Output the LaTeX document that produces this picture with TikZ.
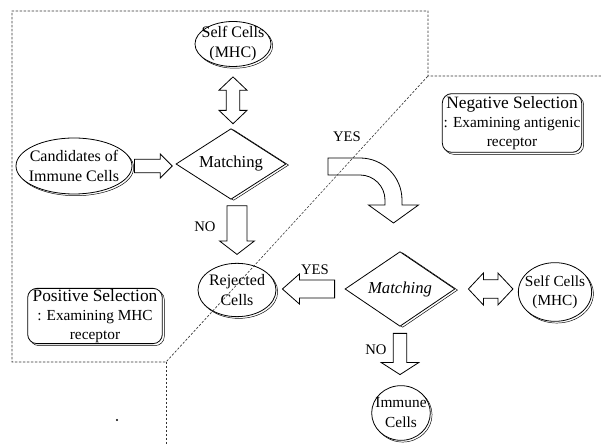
\documentclass[tikz,border=0pt]{standalone}
\usepackage{fontspec}
\setmainfont{Liberation Serif}
\usetikzlibrary{calc,shapes.geometric,shadows}

% fat block arrow from #1 to #2, gaps #3 and #4 at the two ends
\newcommand{\fatarrow}[4]{%
  \path let \p1=($(#2)-(#1)$) in \pgfextra{\pgfmathsetmacro\faang{atan2(\y1,\x1)}\pgfmathsetmacro\falen{veclen(\x1,\y1)}\global\let\faang\faang\global\let\falen\falen};
  \begin{scope}[shift={(#1)}, rotate=\faang]
    \draw[blockarrow] (#3,-\shw) -- (\falen pt-#4-\hdl,-\shw) -- (\falen pt-#4-\hdl,-\hdw) -- (\falen pt-#4,0pt)
      -- (\falen pt-#4-\hdl,\hdw) -- (\falen pt-#4-\hdl,\shw) -- (#3,\shw) -- cycle;
  \end{scope}}
% same with a head at both ends
\newcommand{\dblarrow}[4]{%
  \path let \p1=($(#2)-(#1)$) in \pgfextra{\pgfmathsetmacro\faang{atan2(\y1,\x1)}\pgfmathsetmacro\falen{veclen(\x1,\y1)}\global\let\faang\faang\global\let\falen\falen};
  \begin{scope}[shift={(#1)}, rotate=\faang]
    \draw[blockarrow] (#3,0pt) -- (#3+\hdl,-\hdw) -- (#3+\hdl,-\shw) -- (\falen pt-#4-\hdl,-\shw) -- (\falen pt-#4-\hdl,-\hdw)
      -- (\falen pt-#4,0pt) -- (\falen pt-#4-\hdl,\hdw) -- (\falen pt-#4-\hdl,\shw) -- (#3+\hdl,\shw) -- (#3+\hdl,\hdw) -- cycle;
  \end{scope}}

\tikzset{
  cell/.style={ellipse, draw, fill=white, line width=0.6pt, inner xsep=-6pt, inner ysep=-4pt, align=center,
    font=\fontsize{12}{15}\selectfont,
    copy shadow={shadow xshift=1.3pt, shadow yshift=-1.3pt, draw=black, fill=white, line width=0.35pt}},
  decide/.style={diamond, draw, fill=white, line width=0.6pt, aspect=1.5, inner sep=1pt,
    minimum width=82.5pt, font=\fontsize{12.5}{14}\selectfont,
    copy shadow={shadow xshift=2pt, shadow yshift=-0.8pt, draw=black, fill=white, line width=0.35pt}},
  selbox/.style={rectangle, rounded corners=7pt, draw, fill=white, line width=0.6pt, align=center, inner sep=1pt,
    font=\fontsize{11.5}{14}\selectfont,
    copy shadow={shadow xshift=1.5pt, shadow yshift=-1.5pt, draw=black, fill=white, line width=0.35pt}},
  blockarrow/.style={draw=black, fill=white, line width=0.6pt, line join=miter},
  borderline/.style={black!80, line width=0.45pt, dash pattern=on 1.8pt off 1.2pt},
  answer/.style={font=\fontsize{11}{12}\selectfont, inner sep=0pt},
}

\begin{document}
\begin{tikzpicture}[x=0.75pt, y=-0.75pt]
  \useasboundingbox (0,0) rectangle (601,445);

  %%%%% positive selection %%%%%
  \node[cell, minimum width=57pt, minimum height=33.75pt] (self1) at (233,44) {Self Cells\\(MHC)};
  \node[decide, minimum height=53pt] (match1) at (231,164) {Matching};
  \node[cell, minimum width=87pt, minimum height=42pt] (cand) at (74,166) {Candidates of\\Immune Cells};
  \node[cell, minimum width=58.5pt, minimum height=40pt] (reject) at (237,290) {Rejected\\Cells};
  \node[selbox, minimum width=101pt, minimum height=41pt] (possel) at (95,316)
    {{\fontsize{13}{14}\selectfont Positive Selection}\\: Examining MHC\\receptor};

  \def\shw{5pt}\def\hdw{10.5pt}\def\hdl{10pt}
  \dblarrow{self1.south}{self1.south |- match1.north}{7.5pt}{3.4pt}
  \def\shw{5pt}\def\hdw{9pt}\def\hdl{9pt}
  \fatarrow{cand.east}{cand.east -| match1.west}{1.5pt}{2.5pt}
  \def\shw{7.5pt}\def\hdw{13pt}\def\hdl{10pt}
  \fatarrow{reject.north |- match1.south}{reject.north}{4.5pt}{6.4pt}
  \node[answer] (no1) at (205,227) {NO};

  %%%%% negative selection %%%%%
  \node[selbox, minimum width=104pt, minimum height=44pt] (negsel) at (512,123)
    {{\fontsize{13}{14}\selectfont Negative Selection}\\: Examining antigenic\\receptor};
  \node[decide, minimum height=56pt] (match2) at (400,289) {\itshape Matching};
  \node[cell, minimum width=55pt, minimum height=44pt, font=\fontsize{11.5}{14.5}\selectfont] (self2) at (555,292) {Self Cells\\(MHC)};
  \node[cell, minimum width=44pt, minimum height=41pt, font=\fontsize{11.5}{15}\selectfont] (immune) at (401,413) {Immune\\Cells};

  % YES from the first matching, turning down
  \node[answer] (yes1) at (347,137) {YES};
  \draw[blockarrow] (328,158) -- (360,158) .. controls (383.2,158) and (402,176.8) .. (402,200)
    -- (402,205) -- (418.5,205) -- (393.5,223) -- (368.5,205) -- (385,205) -- (385,200)
    .. controls (385,186.2) and (373.8,175) .. (360,175) -- (328,175) -- cycle;

  \def\shw{6.75pt}\def\hdw{11.25pt}\def\hdl{12.75pt}
  \fatarrow{match2.west}{match2.west -| reject.east}{7.5pt}{4.5pt}
  \node[answer] (yes2) at (315,270) {YES};
  \def\shw{7pt}\def\hdw{12pt}\def\hdl{11.25pt}
  \dblarrow{match2.east}{match2.east -| self2.west}{9.75pt}{3.75pt}
  \def\shw{5pt}\def\hdw{14pt}\def\hdl{9pt}
  \fatarrow{match2.south}{match2.south |- immune.north}{5pt}{8pt}
  \node[answer] (no2) at (376,350) {NO};

  %%%%% dashed borders %%%%%
  \draw[borderline] (601,76) -- (428,76) -- (428,11) -- (12,11) -- (12,362) -- (166,362) -- (428,76);
  \draw[borderline] (166,362) -- (166,445);
  \fill (117,420) circle (0.9pt);
\end{tikzpicture}
\end{document}
